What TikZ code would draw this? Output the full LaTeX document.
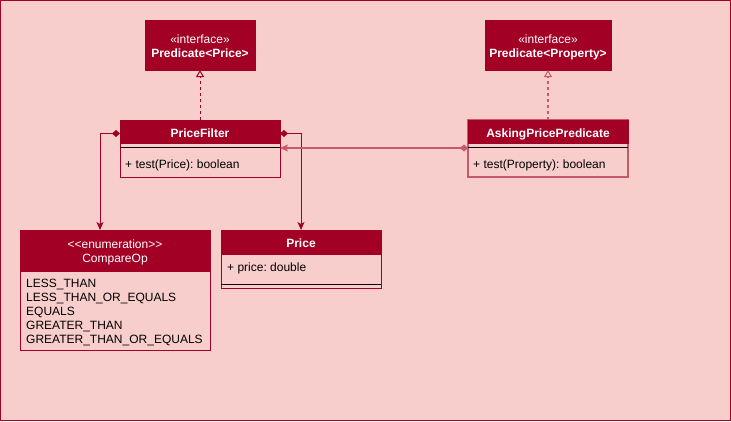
\documentclass[tikz,border=0pt]{standalone}
\usepackage{fontspec}
\setmainfont{Liberation Sans}
\newfontfamily\rawsans{Liberation Sans}
\usetikzlibrary{arrows.meta}
\definecolor{bgpink}{HTML}{F8CECC}
\definecolor{dkred}{HTML}{A20025}
\definecolor{ltred}{HTML}{C65A66}
\tikzset{
  classbox/.style={draw=#1, line width=1pt, fill=bgpink, anchor=north west, inner sep=0pt, outer sep=0pt},
  classbox/.default=dkred,
  hdr/.style={draw=dkred, line width=1pt, fill=dkred, anchor=north west, inner sep=0pt, outer sep=0pt},
  divider/.style={draw=black, line width=1pt},
  ttl/.style={text=white, font=\fontsize{12pt}{14pt}\selectfont\bfseries, inner sep=0pt, anchor=base},
  stereo/.style={text=white, font=\fontsize{12pt}{14pt}\selectfont, inner sep=0pt, anchor=base},
  txt/.style={text=black, font=\fontsize{12pt}{14pt}\selectfont, inner sep=0pt, anchor=base west},
  realize/.style={draw=#1, line width=1pt, dash pattern=on 3pt off 3pt,
    -{Triangle[open, length=7pt, width=8pt, line width=1pt, color=#1]}},
  compose/.style={draw=#1, line width=1pt,
    {Diamond[length=8pt, width=7pt, color=#1]}-{Stealth[length=8pt, width=7pt, inset=2pt, color=#1]}},
  thicker/.style={line width=1.5pt},
}
\begin{document}
\frenchspacing
\begin{tikzpicture}[x=1pt, y=-1pt]
\useasboundingbox (0,0) rectangle (731,421);
\draw[dkred, line width=1pt, fill=bgpink] (0.5,0.5) rectangle (730.5,420.5);

% interfaces
\node[hdr, minimum width=110pt, minimum height=50pt] (pp) at (145,20) {};
\node[stereo] (ppst) at (200,43.3) {«interface»};
\node[ttl] (ppt) at (200,57) {Predicate<Price>};

\node[hdr, minimum width=126pt, minimum height=50pt] (ppr) at (485,20) {};
\node[stereo] (pprst) at (548,43.3) {«interface»};
\node[ttl] (pprt) at (548,57) {Predicate<Property>};

% PriceFilter
\node[classbox, minimum width=160pt, minimum height=57pt] (pf) at (120,120) {};
\node[hdr, minimum width=160pt, minimum height=23.5pt] (pfh) at (120,120) {};
\node[ttl] (pft) at (200,137.3) {PriceFilter};
\draw[divider] ([yshift=-27.5pt]pf.north west) -- ([yshift=-27.5pt]pf.north east);
\node[txt] (pfm) at (125,168.3) {+ test(Price): boolean};

% AskingPricePredicate
\node[classbox=ltred, thicker, minimum width=160pt, minimum height=57pt] (ap) at (468,120) {};
\node[hdr, minimum width=160pt, minimum height=23.5pt] (aph) at (468,120) {};
\node[ttl] (apt) at (548,137.3) {AskingPricePredicate};
\draw[divider] ([yshift=-27.5pt]ap.north west) -- ([yshift=-27.5pt]ap.north east);
\node[txt] (apm) at (473,168.3) {+ test(Property): boolean};

% CompareOp
\node[classbox, minimum width=190pt, minimum height=120pt] (co) at (20,230) {};
\node[hdr, minimum width=190pt, minimum height=41pt] (coh) at (20,230) {};
\node[stereo, font=\rawsans\fontsize{12pt}{14pt}\selectfont] (cost) at (115,248.3) {<<enumeration>>};
\node[stereo] (cot) at (115,262) {CompareOp};
\foreach \t [count=\i] in {LESS\_THAN, LESS\_THAN\_OR\_EQUALS, EQUALS, GREATER\_THAN, GREATER\_THAN\_OR\_EQUALS}
  \node[txt] (co\i) at (26,273.3+14*\i) {\t};

% Price
\node[classbox, minimum width=160pt, minimum height=58pt] (pr) at (221,230) {};
\node[hdr, minimum width=160pt, minimum height=24pt] (prh) at (221,230) {};
\node[ttl] (prt) at (301,247.3) {Price};
\node[txt] (pra) at (227,271) {+ price: double};
\draw[divider] ([yshift=-54pt]pr.north west) -- ([yshift=-54pt]pr.north east);

% connectors
\draw[realize=dkred] (pf.north) -- (pp.south);
\draw[realize=ltred, thicker] (ap.north) -- (ppr.south);
\draw[compose=dkred] ([yshift=-13.5pt]pf.north west) -| ([xshift=-15pt]co.north);
\draw[compose=dkred] ([yshift=-13.5pt]pf.north east) -| (pr.north);
\draw[compose=ltred, thicker] ([yshift=-28pt]ap.north west) -- ([yshift=-28pt]pf.north east);
\end{tikzpicture}
\end{document}
